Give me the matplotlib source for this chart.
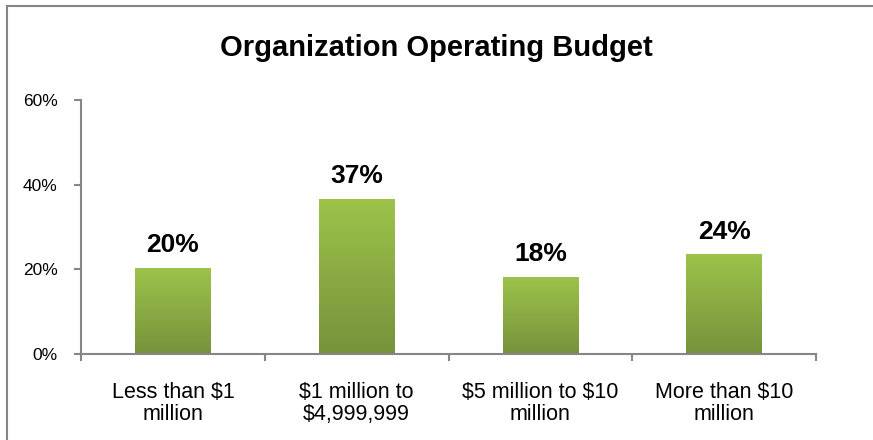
import matplotlib
matplotlib.use("Agg")
import matplotlib.pyplot as plt
import numpy as np
from matplotlib.colors import LinearSegmentedColormap
from matplotlib.lines import Line2D

categories = ["Less than \\$1\nmillion", "\\$1 million to\n\\$4,999,999", "\\$5 million to \\$10\nmillion", "More than \\$10\nmillion"]
values = [20.3, 36.6, 18.2, 23.6]
labels = ["20%", "37%", "18%", "24%"]
yticks = [0, 20, 40, 60]

plt.rcParams['font.family'] = ['Liberation Sans', 'DejaVu Sans']

fig = plt.figure(figsize=(8.73, 4.4), dpi=100)
ax = fig.add_axes([81/873, 1-354/440, (816-81)/873, (354-100)/440])

grey = "#868686"
x = np.arange(len(categories))
bars = ax.bar(x, values, width=0.41, color="none", edgecolor="none")
cmap = LinearSegmentedColormap.from_list("g", ["#76923C", "#9DC34A"])
grad = np.linspace(0, 1, 256).reshape(-1, 1)
for b in bars:
    x0, y0, w, h = b.get_x(), b.get_y(), b.get_width(), b.get_height()
    im = ax.imshow(grad, extent=[x0, x0 + w, y0, y0 + h], origin="lower",
                   cmap=cmap, aspect="auto", zorder=2)
    im.set_clip_path(b)

for xi, v, lab in zip(x, values, labels):
    ax.text(xi, v + 2.5, lab, ha="center", va="bottom", fontsize=19, fontweight="bold", color="black")

ax.set_xlim(-0.5, len(categories) - 0.5)
ax.set_ylim(0, 60)
ax.set_yticks(yticks)
ax.set_yticklabels([f"{t}%" for t in yticks], fontsize=12.5)
ax.set_xticks(np.arange(len(categories) + 1) - 0.5, minor=False)
ax.set_xticklabels([])
ax.set_xticks(x, minor=True)
ax.set_xticklabels(categories, minor=True, fontsize=15.5, linespacing=1.05)
ax.tick_params(axis="x", which="minor", length=0, pad=20)
ax.tick_params(axis="x", which="major", length=5, color=grey, width=1.5, direction="out")
ax.tick_params(axis="y", length=5, color=grey, width=1.5, direction="out", pad=12)
for s in ["top", "right"]:
    ax.spines[s].set_visible(False)
for s in ["left", "bottom"]:
    ax.spines[s].set_color(grey)
    ax.spines[s].set_linewidth(1.5)

fig.text(0.5, 1 - 48/440, "Organization Operating Budget", ha="center", va="center",
         fontsize=21, fontweight="bold")

fig.add_artist(Line2D([7/873, 7/873], [0, 1 - 6/440], transform=fig.transFigure, color=grey, lw=1.5))
fig.add_artist(Line2D([7/873, 1], [1 - 6/440, 1 - 6/440], transform=fig.transFigure, color=grey, lw=1.5))

fig.savefig("out.png", dpi=100)
